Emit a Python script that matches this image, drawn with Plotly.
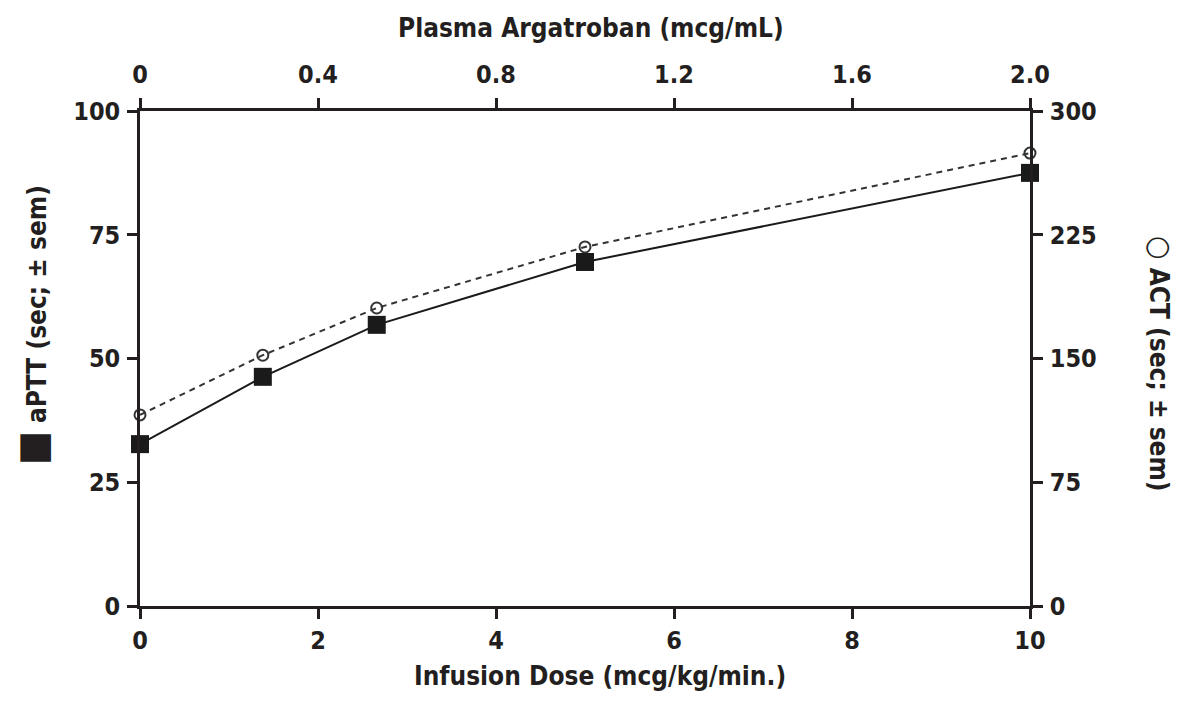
import plotly.graph_objects as go

# Data
dose = [0, 1.38, 2.66, 5.0, 10.0]
aptt = [32.7, 46.3, 56.8, 69.5, 87.5]
act = [115.8, 152.0, 180.6, 217.6, 274.5]

x_ticks = [0, 2, 4, 6, 8, 10]
top_ticks = [0, 0.4, 0.8, 1.2, 1.6, 2.0]
top_ticktext = ["0", "0.4", "0.8", "1.2", "1.6", "2.0"]
left_ticks = [0, 25, 50, 75, 100]
right_ticks = [0, 75, 150, 225, 300]

FONT = "DejaVu Sans Condensed, Liberation Sans Narrow, Arial Narrow, sans-serif"
INK = "#231f20"
TICKFONT = dict(family=FONT, size=25, color=INK, weight="bold")
TITLEFONT = dict(family=FONT, size=26, color=INK, weight="bold")

fig = go.Figure()

fig.add_trace(go.Scatter(
    x=dose, y=act, xaxis="x", yaxis="y2", mode="lines+markers",
    line=dict(color="#333333", width=2, dash="6px,5px"),
    marker=dict(symbol="circle-open", size=11, color="#333333", line=dict(width=2)),
    cliponaxis=False, showlegend=False,
))
fig.add_trace(go.Scatter(
    x=dose, y=aptt, xaxis="x", yaxis="y", mode="lines+markers",
    line=dict(color="#1a1a1a", width=2),
    marker=dict(symbol="square", size=18, color="#1a1a1a"),
    cliponaxis=False, showlegend=False,
))
# invisible trace to activate the top axis
fig.add_trace(go.Scatter(x=[0, 2], y=[0, 0], xaxis="x2", yaxis="y",
                         mode="markers", marker=dict(opacity=0),
                         hoverinfo="skip", showlegend=False))

axis_common = dict(showline=True, linecolor=INK, linewidth=2.5, ticks="outside",
                   ticklen=10, tickwidth=2.5, tickcolor=INK, showgrid=False,
                   zeroline=False, tickfont=TICKFONT, automargin=False)

fig.update_layout(
    width=1173, height=686,
    paper_bgcolor="white", plot_bgcolor="white",
    margin=dict(l=132, r=151, t=103, b=88),
    xaxis=dict(range=[0, 10], tickvals=x_ticks, ticklabelstandoff=0, **axis_common),
    xaxis2=dict(range=[0, 2], tickvals=top_ticks, ticktext=top_ticktext,
                overlaying="x", side="top", anchor="y", ticklabelstandoff=5,
                **axis_common),
    yaxis=dict(range=[0, 100], tickvals=left_ticks, ticklabelstandoff=2, **axis_common),
    yaxis2=dict(range=[0, 300], tickvals=right_ticks, overlaying="y", side="right",
                anchor="x", ticklabelstandoff=2, **axis_common),
    annotations=[
        dict(text="Infusion Dose (mcg/kg/min.)", xref="paper", yref="paper",
             x=0.517, y=-0.142, showarrow=False, font=TITLEFONT,
             xanchor="center", yanchor="middle"),
        dict(text="Plasma Argatroban (mcg/mL)", xref="paper", yref="paper",
             x=0.507, y=1.168, showarrow=False, font=TITLEFONT,
             xanchor="center", yanchor="middle"),
        dict(text="<span style='font-size:40px'>■</span> aPTT (sec; ± sem)",
             textangle=-90, xref="paper", yref="paper",
             x=-0.122, y=0.568, showarrow=False, font=TITLEFONT,
             xanchor="center", yanchor="middle"),
        dict(text="<span style='font-size:30px;font-weight:normal'>○</span> ACT (sec; ± sem)",
             textangle=90, xref="paper", yref="paper",
             x=1.146, y=0.489, showarrow=False, font=TITLEFONT,
             xanchor="center", yanchor="middle"),
    ],
)

fig.write_html("out.html")
